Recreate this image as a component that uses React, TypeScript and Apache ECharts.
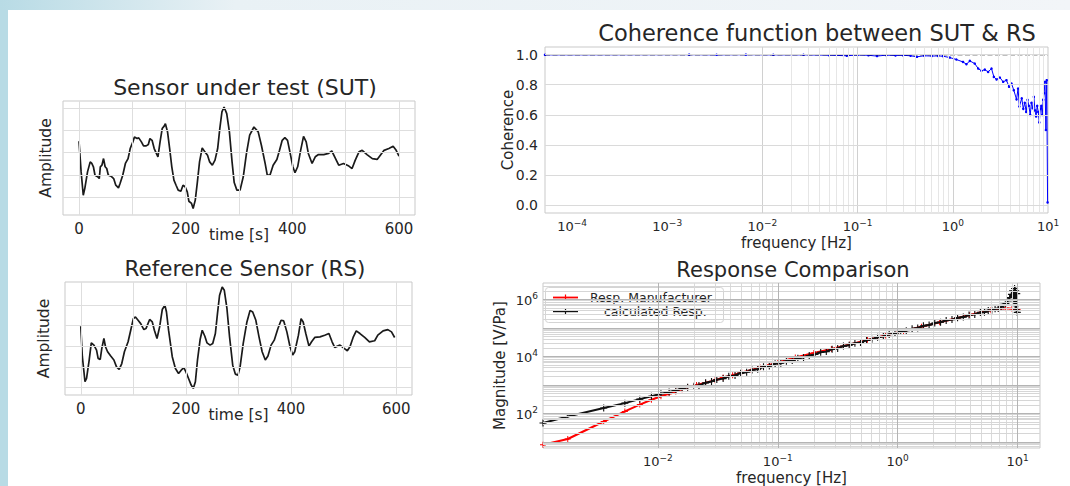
import React, { useEffect, useRef } from 'react';
import * as echarts from 'echarts';

// ---------------- data ----------------
const timeTickLabels = [0, 200, 400, 600];

const sutTime = [0, 4, 8, 11, 16, 21, 24, 27, 30, 35, 38, 40, 43, 46, 49, 52, 55, 60, 65, 69, 74, 77, 82, 87, 92, 96, 101, 104, 109, 112, 117, 121, 126, 130, 133, 137, 141, 145, 148, 152, 156, 160, 162, 166, 170, 174, 178, 182, 186, 191, 195, 199, 203, 206, 211, 214, 218, 222, 226, 231, 236, 241, 245, 250, 255, 260, 264, 268, 272, 277, 282, 287, 291, 296, 302, 308, 314, 320, 328, 336, 342, 349, 353, 358, 364, 371, 376, 381, 386, 391, 396, 401, 405, 410, 415, 421, 426, 430, 437, 443, 449, 459, 468, 474, 481, 487, 496, 506, 512, 518, 525, 531, 540, 550, 559, 565, 572, 581, 589, 594, 600];
const sutAmplitude = [0.51, -0.87, -1.92, -1.6, -0.87, -0.42, -0.49, -0.64, -1.02, -1.09, -1.17, -0.64, -0.57, -0.27, -0.64, -0.72, -1.02, -1.06, -1.17, -1.47, -1.59, -1.39, -1.02, -0.49, -0.27, 0.18, 0.48, 0.7, 0.63, 0.66, 0.48, 0.3, 0.3, 0.36, 0.63, 0.55, 0.18, -0.04, -0.19, 0.48, 1.08, 1.2, 1.3, 0.93, 0.18, -0.64, -1.24, -1.47, -1.69, -1.74, -1.47, -1.54, -1.77, -2.19, -2.29, -2.52, -2.14, -1.32, -0.42, 0.21, 0.03, -0.12, -0.42, -0.57, -0.34, 0.18, 1.08, 1.83, 2.05, 1.75, 0.93, -0.42, -1.35, -1.69, -1.69, -1.09, -0.04, 0.78, 1.15, 0.93, 0.33, -0.49, -1.02, -1.02, -0.57, -0.31, 0.1, 0.55, 0.67, 0.55, -0.04, -0.64, -0.91, -0.64, 0.03, 0.73, 0.48, -0.04, -0.49, -0.19, -0.09, -0.09, -0.04, 0.07, -0.27, -0.57, -0.49, -0.61, -0.72, -0.34, 0.03, 0.1, -0.09, -0.27, -0.31, -0.12, 0.1, 0.18, 0.28, 0.13, -0.16];

const rsTime = [0, 3, 8, 11, 16, 20, 25, 30, 33, 37, 40, 44, 47, 51, 57, 63, 68, 73, 78, 83, 90, 95, 100, 104, 109, 114, 120, 124, 131, 136, 140, 145, 150, 155, 160, 163, 167, 174, 180, 186, 191, 196, 200, 205, 210, 214, 218, 222, 227, 231, 236, 240, 246, 251, 256, 260, 264, 269, 273, 278, 283, 289, 294, 299, 303, 309, 316, 322, 327, 333, 339, 345, 351, 356, 362, 368, 375, 381, 386, 392, 398, 403, 407, 414, 419, 423, 428, 434, 439, 445, 455, 464, 472, 478, 483, 493, 501, 507, 512, 518, 524, 531, 540, 549, 559, 565, 575, 584, 591, 597];
const rsAmplitude = [0.96, -0.51, -1.72, -1.56, -0.67, 0.16, 0.05, -0.19, -0.59, -0.64, -0.11, 0.37, -0.03, -0.27, -0.48, -0.67, -1.0, -1.12, -0.84, -0.27, 0.21, 0.77, 1.33, 1.41, 1.25, 1.09, 0.8, 0.85, 1.29, 1.17, 0.77, 0.37, 0.93, 1.77, 1.98, 1.65, 0.77, -0.51, -1.08, -1.32, -1.16, -1.04, -1.24, -1.56, -1.88, -2.04, -1.72, -0.67, 0.32, 0.77, 0.48, 0.16, 0.05, 0.13, 0.61, 1.57, 2.46, 2.86, 2.7, 1.82, 0.45, -0.92, -1.35, -1.4, -1.0, 0.13, 1.17, 1.73, 1.65, 1.25, 0.45, -0.27, -0.67, -0.48, 0.05, 0.29, 0.85, 1.25, 1.22, 0.69, -0.03, -0.43, -0.27, 0.53, 1.33, 1.17, 0.61, 0.0, 0.21, 0.42, 0.45, 0.53, 0.61, 0.21, -0.06, 0.05, -0.11, -0.22, -0.03, 0.42, 0.74, 0.61, 0.42, 0.21, 0.26, 0.53, 0.74, 0.8, 0.69, 0.42];

const cohFreq = [5.2e-5, 1.7e-3, 3.3e-3, 6.7e-3, 1.3e-2, 2.7e-2, 5.0e-2, 7.7e-2, 0.1, 0.13, 0.16, 0.2, 0.25, 0.3, 0.36, 0.42, 0.5, 0.6, 0.7, 0.79, 0.93, 1.09, 1.28, 1.39, 1.51, 1.7, 1.85, 2.0, 2.17, 2.35, 2.55, 2.7, 2.88, 3.12, 3.38, 3.66, 3.9, 4.14, 4.37, 4.67, 4.85, 5.0, 5.3, 5.5, 5.7, 5.9, 6.1, 6.3, 6.5, 6.7, 6.9, 7.1, 7.3, 7.5, 7.7, 7.9, 8.1, 8.3, 8.5, 8.7, 8.9, 9.1, 9.3, 9.5, 9.7, 9.9];
const cohValue = [0.998, 0.999, 0.998, 0.999, 0.998, 0.998, 0.996, 0.992, 0.997, 0.995, 0.99, 0.996, 0.994, 0.995, 0.992, 0.985, 0.992, 0.99, 0.991, 0.989, 0.98, 0.967, 0.951, 0.936, 0.958, 0.94, 0.907, 0.892, 0.9, 0.885, 0.907, 0.852, 0.835, 0.848, 0.819, 0.83, 0.786, 0.808, 0.764, 0.703, 0.775, 0.656, 0.71, 0.64, 0.68, 0.62, 0.7, 0.66, 0.6, 0.68, 0.645, 0.72, 0.63, 0.59, 0.66, 0.62, 0.55, 0.64, 0.66, 0.6, 0.7, 0.744, 0.82, 0.5, 0.83, 0.02];
const cohRefFreq = [5.2e-5, 10];
const cohRefValue = [1, 1];

const manuFreq = [1.1e-3, 1.77e-3, 3.53e-3, 5.3e-3, 7.06e-3, 8.83e-3, 1.06e-2, 1.24e-2, 1.41e-2, 1.59e-2, 1.77e-2, 2.1e-2, 2.5e-2, 3.0e-2, 3.5e-2, 4.2e-2, 5.0e-2, 6.0e-2, 7.1e-2, 8.5e-2, 0.1, 0.14, 0.2, 0.28, 0.4, 0.56, 0.79, 1.12, 1.58, 2.24, 3.16, 4.0, 5.0, 6.0, 7.0, 8.0, 9.0, 10.0];
const manuMagnitude = [7.9, 12.6, 52, 117, 204, 300, 398, 490, 589, 708, 832, 1000, 1200, 1450, 1820, 2200, 2750, 3300, 4170, 5000, 6170, 9120, 13200, 18200, 26300, 38000, 54000, 77600, 110000, 158000, 224000, 282000, 355000, 417000, 468000, 490000, 470000, 440000];

const calcFreq = [1.1e-3, 1.77e-3, 3.53e-3, 5.3e-3, 7.06e-3, 8.83e-3, 1.06e-2, 1.24e-2, 1.41e-2, 1.59e-2, 1.77e-2, 0.020, 0.022, 0.025, 0.028, 0.031, 0.035, 0.039, 0.044, 0.049, 0.055, 0.061, 0.068, 0.076, 0.085, 0.095, 0.106, 0.118, 0.132, 0.147, 0.164, 0.183, 0.204, 0.228, 0.254, 0.284, 0.316, 0.353, 0.394, 0.44, 0.49, 0.55, 0.61, 0.68, 0.76, 0.85, 0.95, 1.06, 1.18, 1.32, 1.47, 1.64, 1.83, 2.04, 2.28, 2.54, 2.84, 3.16, 3.53, 3.94, 4.4, 4.9, 5.3, 5.7, 6.1, 6.5, 6.9, 7.3, 7.6, 8.0, 8.3, 8.6, 8.9, 9.1, 9.3, 9.45, 9.55, 9.65, 9.75, 9.85, 9.95];
const calcMagnitude = [46, 78, 155, 229, 316, 398, 490, 562, 646, 741, 832, 900, 960, 1180, 1310, 1530, 1660, 2010, 2130, 2580, 2800, 3330, 3530, 4290, 4560, 5520, 5740, 6800, 7220, 8550, 9100, 10800, 11700, 13900, 14700, 17900, 19000, 23000, 24500, 29000, 30800, 36500, 39700, 47000, 50000, 59000, 63000, 74500, 79300, 93800, 99500, 118000, 126000, 149000, 158000, 183000, 195000, 225000, 239000, 283000, 294000, 349000, 354000, 410000, 416000, 470000, 478000, 540000, 600000, 720000, 900000, 1150000, 1500000, 2000000, 900000, 2400000, 600000, 2000000, 450000, 1600000, 350000];

// ---------------- styling helpers ----------------
const FONT = "'DejaVu Sans', 'Liberation Sans', sans-serif";
const TXT = '#262626';
const BOX = '#c9c9c9';

const pairs = (xs: number[], ys: number[]) => xs.map((x, i) => [x, ys[i]]);

const powLabel = (step: number) => (v: number) => {
  const l = Math.log10(v);
  const e = Math.round(l);
  if (Math.abs(l - e) > 1e-6) return '';
  if (((e % step) + step) % step !== 0) return '';
  const s = e < 0 ? '\u2212' + -e : String(e);
  return '{b|10}{s|' + s + '}';
};
const supRich = {
  b: { fontSize: 13, fontFamily: FONT, color: TXT, lineHeight: 15, verticalAlign: 'bottom' },
  s: { fontSize: 9, fontFamily: FONT, color: TXT, lineHeight: 9, verticalAlign: 'top' },
};

const decadeValues = (lo: number, hi: number, major: boolean) => {
  const out: number[] = [];
  for (let e = Math.floor(Math.log10(lo)); e <= Math.ceil(Math.log10(hi)); e++) {
    for (let k = 1; k <= 9; k++) {
      if ((k === 1) !== major) continue;
      const v = k * Math.pow(10, e);
      if (v > lo * 1.0001 && v < hi * 0.9999) out.push(v);
    }
  }
  return out;
};

const guideSeries = (idx: number, items: any[]) => ({
  type: 'line',
  xAxisIndex: idx,
  yAxisIndex: idx,
  data: [],
  z: 1,
  silent: true,
  markLine: {
    silent: true,
    symbol: ['none', 'none'],
    label: { show: false },
    emphasis: { disabled: true },
    animation: false,
    data: items,
  },
});
const vLine = (v: number, color: string) => ({ xAxis: v, lineStyle: { color, width: 1, type: 'solid' } });
const hLine = (v: number, color: string) => ({ yAxis: v, lineStyle: { color, width: 1, type: 'solid' } });

const PLUS = 'path://M0,4.2H10V5.8H0Z M4.2,0H5.8V10H4.2Z';

// axis ranges
const T_MIN = -30, T_MAX = 630;
const COH_FMIN = 5.2e-5, COH_FMAX = 10;
const RESP_FMIN = 1.1e-3, RESP_FMAX = 15.4;
const RESP_MMIN = 6.1, RESP_MMAX = 3.76e6;

const nameStyle = (size: number) => ({ color: TXT, fontSize: size, fontFamily: FONT });

const timeXAxis = (gridIndex: number, nameGap: number) => ({
  type: 'value', gridIndex, min: T_MIN, max: T_MAX,
  axisLine: { show: false }, axisTick: { show: false }, splitLine: { show: false },
  axisLabel: {
    color: TXT, fontSize: 15, fontFamily: FONT, margin: 6,
    formatter: (v: number) => (timeTickLabels.indexOf(Math.round(v)) >= 0 && Math.abs(v - Math.round(v)) < 1e-6 ? String(Math.round(v)) : ''),
  },
  name: 'time [s]', nameLocation: 'middle', nameGap, nameMoveOverlap: false,
  nameTextStyle: nameStyle(15.5),
});
const ampYAxis = (gridIndex: number, min: number, max: number, nameGap: number) => ({
  type: 'value', gridIndex, min, max,
  axisLine: { show: false }, axisTick: { show: false }, splitLine: { show: false },
  axisLabel: { show: false },
  name: 'Amplitude', nameLocation: 'middle', nameGap, nameMoveOverlap: false,
  nameTextStyle: nameStyle(15.5),
});

const timeGuides = () => [
  ...[0, 100, 200, 300, 400, 500, 600].map((v) => vLine(v, '#dedede')),
  ...[-2, -1, 0, 1, 2].map((v) => hLine(v, '#dedede')),
];

const option: any = {
  animation: false,
  backgroundColor: '#ffffff',
  textStyle: { fontFamily: FONT },
  grid: [
    { left: 63, top: 101, width: 352, height: 114, show: true, borderColor: BOX, borderWidth: 1, backgroundColor: 'transparent' },
    { left: 65, top: 282, width: 347, height: 113, show: true, borderColor: BOX, borderWidth: 1, backgroundColor: 'transparent' },
    { left: 545, top: 47, width: 503, height: 166, show: true, borderColor: BOX, borderWidth: 1, backgroundColor: 'transparent' },
    { left: 543, top: 283, width: 497, height: 165, show: true, borderColor: BOX, borderWidth: 1, backgroundColor: 'transparent' },
  ],
  xAxis: [
    timeXAxis(0, 12),
    timeXAxis(1, 12),
    {
      type: 'log', logBase: 10, gridIndex: 2, min: COH_FMIN, max: COH_FMAX,
      axisLine: { show: false }, axisTick: { show: false }, splitLine: { show: false },
      axisLabel: { formatter: powLabel(1), rich: supRich, margin: 5 },
      name: 'frequency [Hz]', nameLocation: 'middle', nameGap: 22, nameMoveOverlap: false,
      nameTextStyle: nameStyle(15),
    },
    {
      type: 'log', logBase: 10, gridIndex: 3, min: RESP_FMIN, max: RESP_FMAX,
      axisLine: { show: false }, axisTick: { show: false }, splitLine: { show: false },
      axisLabel: { formatter: powLabel(1), rich: supRich, margin: 5 },
      name: 'frequency [Hz]', nameLocation: 'middle', nameGap: 22, nameMoveOverlap: false,
      nameTextStyle: nameStyle(15),
    },
  ],
  yAxis: [
    ampYAxis(0, -2.81, 2.32, 9),
    ampYAxis(1, -2.36, 3.1, 13),
    {
      type: 'value', gridIndex: 2, min: -0.05, max: 1.05, splitNumber: 5,
      axisLine: { show: false }, axisTick: { show: false }, splitLine: { show: false },
      axisLabel: {
        color: TXT, fontSize: 14, fontFamily: FONT, margin: 7,
        formatter: (v: number) => (Math.abs(v * 5 - Math.round(v * 5)) < 1e-6 && v >= -1e-9 && v <= 1.0000001 ? v.toFixed(1) : ''),
      },
      name: 'Coherence', nameLocation: 'middle', nameGap: 30, nameMoveOverlap: false,
      nameTextStyle: nameStyle(15),
    },
    {
      type: 'log', logBase: 10, gridIndex: 3, min: RESP_MMIN, max: RESP_MMAX,
      axisLine: { show: false }, axisTick: { show: false }, splitLine: { show: false },
      axisLabel: { formatter: powLabel(2), rich: supRich, margin: 5 },
      name: 'Magnitude [V/Pa]', nameLocation: 'middle', nameGap: 36, nameMoveOverlap: false,
      nameTextStyle: nameStyle(15),
    },
  ],
  series: [
    guideSeries(0, timeGuides()),
    guideSeries(1, timeGuides()),
    guideSeries(2, [
      ...decadeValues(COH_FMIN, COH_FMAX, false).map((v) => vLine(v, '#e6e6e6')),
      ...decadeValues(COH_FMIN, COH_FMAX, true).map((v) => vLine(v, '#d0d0d0')),
      ...[0, 0.2, 0.4, 0.6, 0.8, 1.0].map((v) => hLine(v, '#dadada')),
    ]),
    guideSeries(3, [
      ...decadeValues(RESP_FMIN, RESP_FMAX, false).map((v) => vLine(v, '#dadada')),
      ...decadeValues(RESP_MMIN, RESP_MMAX, false).map((v) => hLine(v, '#d6d6d6')),
      ...decadeValues(RESP_FMIN, RESP_FMAX, true).map((v) => vLine(v, '#b4b4b4')),
      ...decadeValues(RESP_MMIN, RESP_MMAX, true).map((v) => hLine(v, '#b4b4b4')),
    ]),
    {
      name: 'SUT', type: 'line', xAxisIndex: 0, yAxisIndex: 0, z: 3,
      data: pairs(sutTime, sutAmplitude), showSymbol: false, symbol: 'none',
      lineStyle: { color: '#1a1a1a', width: 1.7 }, itemStyle: { color: '#1a1a1a' },
    },
    {
      name: 'RS', type: 'line', xAxisIndex: 1, yAxisIndex: 1, z: 3,
      data: pairs(rsTime, rsAmplitude), showSymbol: false, symbol: 'none',
      lineStyle: { color: '#1a1a1a', width: 1.7 }, itemStyle: { color: '#1a1a1a' },
    },
    {
      name: 'Coherence', type: 'line', xAxisIndex: 2, yAxisIndex: 2, z: 3,
      data: pairs(cohFreq, cohValue), showSymbol: true, symbol: 'circle', symbolSize: 2.5,
      lineStyle: { color: '#0000ff', width: 1 }, itemStyle: { color: '#0000ff' },
    },
    {
      name: 'unity', type: 'line', xAxisIndex: 2, yAxisIndex: 2, z: 4,
      data: pairs(cohRefFreq, cohRefValue), showSymbol: false, symbol: 'none',
      lineStyle: { color: '#000000', width: 1.3, type: [5, 2.5] },
    },
    {
      name: 'Resp. Manufacturer', type: 'line', xAxisIndex: 3, yAxisIndex: 3, z: 3,
      data: pairs(manuFreq, manuMagnitude), showSymbol: true, symbol: PLUS, symbolSize: 6,
      lineStyle: { color: '#ff0000', width: 2 }, itemStyle: { color: '#ff0000' },
    },
    {
      name: 'calculated Resp.', type: 'line', xAxisIndex: 3, yAxisIndex: 3, z: 4,
      data: pairs(calcFreq, calcMagnitude), showSymbol: true, symbol: PLUS, symbolSize: 7,
      lineStyle: { color: '#111111', width: 2 }, itemStyle: { color: '#111111' },
    },
  ],
  graphic: [
    { type: 'rect', silent: true, z: -10, shape: { x: 0, y: 0, width: 8, height: 486 }, style: { fill: '#b8dbe5' } },
    {
      type: 'rect', silent: true, z: -10, shape: { x: 0, y: 0, width: 1070, height: 10 },
      style: {
        fill: new echarts.graphic.LinearGradient(0, 0, 1, 0, [
          { offset: 0, color: '#b8dbe5' },
          { offset: 0.22, color: '#e9f1f5' },
          { offset: 1, color: '#f2f5f8' },
        ]),
      },
    },
    { type: 'text', silent: true, x: 245, y: 87, style: { text: 'Sensor under test (SUT)', fontSize: 22, fontFamily: FONT, fill: TXT, align: 'center', verticalAlign: 'middle' } },
    { type: 'text', silent: true, x: 245, y: 268, style: { text: 'Reference Sensor (RS)', fontSize: 21.5, fontFamily: FONT, fill: TXT, align: 'center', verticalAlign: 'middle' } },
    { type: 'text', silent: true, x: 817, y: 33, style: { text: 'Coherence function between SUT & RS', fontSize: 22.5, fontFamily: FONT, fill: TXT, align: 'center', verticalAlign: 'middle' } },
    { type: 'text', silent: true, x: 793, y: 270, style: { text: 'Response Comparison', fontSize: 21, fontFamily: FONT, fill: TXT, align: 'center', verticalAlign: 'middle' } },
    {
      type: 'group', z: 50, children: [
        { type: 'rect', shape: { x: 545.5, y: 287.5, width: 178, height: 35, r: 3 }, style: { fill: 'rgba(255,255,255,0.92)', stroke: '#d4d4d4', lineWidth: 1 } },
        { type: 'line', shape: { x1: 553, y1: 297.5, x2: 578, y2: 297.5 }, style: { stroke: '#ff0000', lineWidth: 1.8 } },
        { type: 'line', shape: { x1: 565.5, y1: 294.5, x2: 565.5, y2: 300.5 }, style: { stroke: '#ff0000', lineWidth: 1.2 } },
        { type: 'text', x: 590, y: 297.5, style: { text: 'Resp. Manufacturer', fontSize: 12.5, fontFamily: FONT, fill: TXT, verticalAlign: 'middle' } },
        { type: 'line', shape: { x1: 553, y1: 311.5, x2: 578, y2: 311.5 }, style: { stroke: '#111111', lineWidth: 1.4 } },
        { type: 'line', shape: { x1: 565.5, y1: 308.5, x2: 565.5, y2: 314.5 }, style: { stroke: '#111111', lineWidth: 1.2 } },
        { type: 'text', x: 604, y: 311.5, style: { text: 'calculated Resp.', fontSize: 12.5, fontFamily: FONT, fill: TXT, verticalAlign: 'middle' } },
      ],
    },
  ],
};

export default function App() {
  const ref = useRef<HTMLDivElement>(null);
  useEffect(() => {
    const chart = echarts.init(ref.current as HTMLDivElement, null, { renderer: 'svg' });
    chart.setOption(option);
    return () => chart.dispose();
  }, []);
  return <div ref={ref} style={{ position: 'fixed', left: 0, top: 0, width: 1070, height: 486 }} />;
}
